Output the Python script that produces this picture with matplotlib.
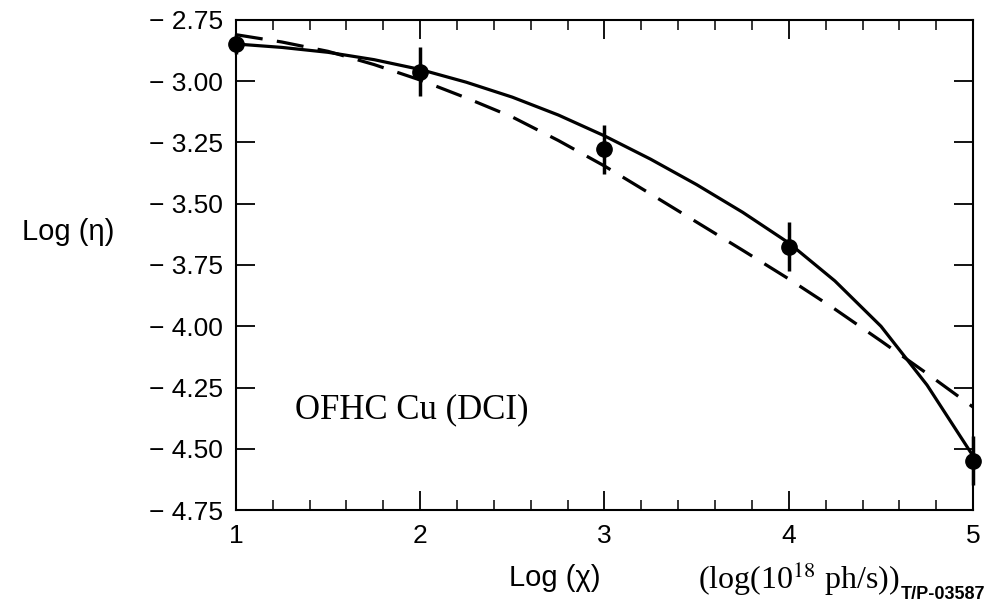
import numpy as np
import matplotlib
matplotlib.use('agg')
from matplotlib import pyplot as plt
from matplotlib.ticker import MultipleLocator

plt.rcParams['font.family'] = ['Liberation Sans', 'DejaVu Sans']

# measured points
x_pts = [1, 2, 3, 4, 5]
y_pts = [-2.848, -2.962, -3.278, -3.675, -4.548]
y_err = [0.04, 0.10, 0.10, 0.10, 0.10]

# solid fit curve
solid_x = [1.0, 1.25, 1.5, 1.75, 2.0, 2.25, 2.5, 2.75, 3.0, 3.25, 3.5, 3.75, 4.0, 4.25, 4.5, 4.75, 5.0]
solid_y = [-2.848, -2.862, -2.882, -2.912, -2.952, -3.004, -3.065, -3.138, -3.223,
           -3.318, -3.422, -3.535, -3.660, -3.815, -4.000, -4.240, -4.530]

# dashed fit curve
dash_x = [1.0, 1.25, 1.5, 1.75, 2.0, 2.25, 2.5, 2.75, 3.0, 3.25, 3.5, 3.75, 4.0, 4.25, 4.5, 4.75, 5.0]
dash_y = [-2.810, -2.840, -2.878, -2.932, -2.995, -3.068, -3.146, -3.242, -3.346,
          -3.460, -3.575, -3.690, -3.807, -3.930, -4.060, -4.193, -4.330]

y_ticks = [-2.75, -3.00, -3.25, -3.50, -3.75, -4.00, -4.25, -4.50, -4.75]
y_labels = ['\u2212 2.75', '\u2212 3.00', '\u2212 3.25', '\u2212 3.50', '\u2212 3.75',
            '\u2212 4.00', '\u2212 4.25', '\u2212 4.50', '\u2212 4.75']
x_ticks = [1, 2, 3, 4, 5]

fig = plt.figure(figsize=(9.95, 6.05), dpi=100)
ax = fig.add_axes([0.237, 0.157, 0.741, 0.81])

ax.plot(solid_x, solid_y, color='black', lw=2.3, solid_capstyle='round',
        solid_joinstyle='round', zorder=3)
ax.plot(dash_x, dash_y, color='black', lw=2.3, dashes=(8.5, 4.5), zorder=3)
ax.errorbar(x_pts, y_pts, yerr=y_err, fmt='o', color='black', ms=11, elinewidth=2.5,
            capsize=0, zorder=4, clip_on=False)

ax.set_xlim(1, 5)
ax.set_ylim(-4.75, -2.75)
ax.set_yticks(y_ticks)
ax.set_yticklabels(y_labels)
ax.set_xticks(x_ticks)
ax.set_xticklabels([str(v) for v in x_ticks])
ax.xaxis.set_minor_locator(MultipleLocator(0.2))

ax.tick_params(axis='both', which='major', direction='in', length=14, width=1.3,
               labelsize=19, top=True, right=True)
ax.tick_params(axis='x', which='major', pad=10)
ax.tick_params(axis='y', which='major', pad=9)
ax.tick_params(axis='x', which='minor', direction='in', length=7, width=1.1, top=True)
ax.tick_params(axis='y', which='minor', left=False, right=False)
for s in ax.spines.values():
    s.set_linewidth(1.5)

fig.text(0.022, 0.616, 'Log (\u03b7)', fontsize=21, ha='left', va='center')
fig.text(0.512, 0.044, 'Log (\u03c7)', fontsize=21, ha='left', va='center')
fig.text(0.702, 0.044, '(log(10$^{18}$ ph/s))', fontsize=23, ha='left', va='center',
         family='Liberation Serif', math_fontfamily='stix')
fig.text(0.99, 0.018, 'T/P-03587', fontsize=13, ha='right', va='center', fontweight='bold')
ax.text(1.32, -4.34, 'OFHC Cu (DCI)', fontsize=25, family='Liberation Serif',
        ha='left', va='center')

fig.savefig('out.png', dpi=100)
